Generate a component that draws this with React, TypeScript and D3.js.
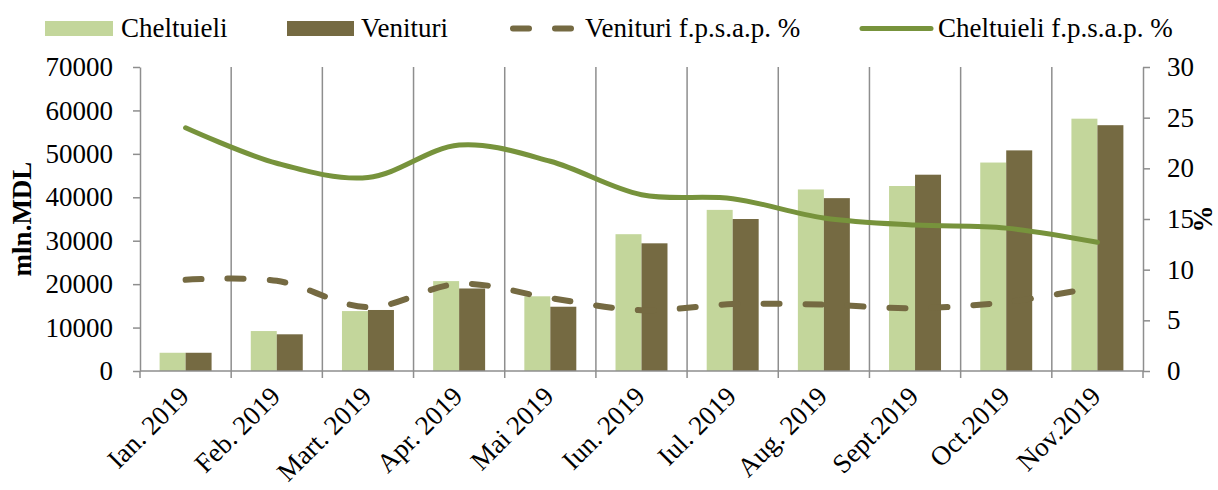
import React, { useEffect, useRef } from 'react';
import * as d3 from 'd3';

// categories and series
const months = ['Ian. 2019', 'Feb. 2019', 'Mart. 2019', 'Apr. 2019', 'Mai 2019', 'Iun. 2019',
  'Iul. 2019', 'Aug. 2019', 'Sept.2019', 'Oct.2019', 'Nov.2019'];
const cheltuieli = [4200, 9200, 13800, 20700, 17200, 31500, 37100, 41800, 42600, 48000, 58100];
const venituri = [4200, 8450, 14050, 19000, 14800, 29400, 35000, 39800, 45200, 50800, 56600];
const venituriPct = [9.0, 8.9, 6.3, 8.6, 7.2, 6.0, 6.6, 6.55, 6.2, 6.8, 8.3];
const cheltuieliPct = [24.0, 20.5, 19.1, 22.3, 20.7, 17.4, 17.0, 15.1, 14.4, 14.1, 12.7];
const leftTicks = [0, 10000, 20000, 30000, 40000, 50000, 60000, 70000];
const rightTicks = [0, 5, 10, 15, 20, 25, 30];

const LIGHT = '#C3D69B';
const DARK = '#756A42';
const GREEN = '#77933C';
const GRID = '#8E8E8E';
const FONT = '"Liberation Serif", "Times New Roman", serif';

const App = () => {
  const svgRef = useRef<SVGSVGElement>(null);

  useEffect(() => {
    const width = 1218;
    const height = 490;
    const left = 140, right = 1143, top = 67, bottom = 371;

    const svg = d3.select(svgRef.current)
      .attr('width', width)
      .attr('height', height);
    svg.selectAll('*').remove();

    const x = d3.scaleBand<string>()
      .domain(months)
      .range([left, right])
      .paddingInner(0.43)
      .paddingOuter(0.215);
    const sub = d3.scaleBand<string>()
      .domain(['c', 'v'])
      .range([0, x.bandwidth()]);
    const yL = d3.scaleLinear().domain([0, 70000]).range([bottom, top]);
    const yR = d3.scaleLinear().domain([0, 30]).range([bottom, top]);
    const step = x.step();
    const center = (m: string) => (x(m) as number) + x.bandwidth() / 2;

    // vertical gridlines between categories
    svg.append('g')
      .selectAll('line')
      .data(d3.range(1, months.length))
      .enter().append('line')
      .attr('x1', i => left + i * step)
      .attr('x2', i => left + i * step)
      .attr('y1', top)
      .attr('y2', bottom)
      .attr('stroke', GRID)
      .attr('stroke-width', 1.5);

    // bars
    const bars = svg.append('g');
    bars.selectAll('.c')
      .data(months)
      .enter().append('rect')
      .attr('x', d => (x(d) as number) + (sub('c') as number))
      .attr('width', sub.bandwidth())
      .attr('y', (d, i) => yL(cheltuieli[i]))
      .attr('height', (d, i) => bottom - yL(cheltuieli[i]))
      .attr('fill', LIGHT);
    bars.selectAll('.v')
      .data(months)
      .enter().append('rect')
      .attr('x', d => (x(d) as number) + (sub('v') as number))
      .attr('width', sub.bandwidth())
      .attr('y', (d, i) => yL(venituri[i]))
      .attr('height', (d, i) => bottom - yL(venituri[i]))
      .attr('fill', DARK);

    // left axis
    const gL = svg.append('g')
      .attr('transform', `translate(${left},0)`)
      .call(d3.axisLeft(yL).tickValues(leftTicks).tickSize(7).tickSizeOuter(0).tickPadding(20)
        .tickFormat(d3.format('d')));
    // right axis
    const gR = svg.append('g')
      .attr('transform', `translate(${right},0)`)
      .call(d3.axisRight(yR).tickValues(rightTicks).tickSize(7).tickSizeOuter(0).tickPadding(17));
    [gL, gR].forEach(g => {
      g.selectAll('path').attr('stroke', GRID).attr('stroke-width', 1.5);
      g.selectAll('line').attr('stroke', GRID).attr('stroke-width', 1.5);
      g.selectAll('text')
        .attr('font-family', FONT)
        .attr('font-size', 27)
        .attr('fill', '#000');
    });

    // x axis
    const gX = svg.append('g');
    gX.append('line')
      .attr('x1', left).attr('x2', right)
      .attr('y1', bottom).attr('y2', bottom)
      .attr('stroke', GRID).attr('stroke-width', 1.5);
    gX.selectAll('.tick')
      .data(d3.range(0, months.length + 1))
      .enter().append('line')
      .attr('x1', i => left + i * step)
      .attr('x2', i => left + i * step)
      .attr('y1', bottom)
      .attr('y2', bottom + 7)
      .attr('stroke', GRID).attr('stroke-width', 1.5);
    gX.selectAll('text')
      .data(months)
      .enter().append('text')
      .attr('transform', d => `translate(${center(d) + 5},${bottom + 27}) rotate(-45)`)
      .attr('text-anchor', 'end')
      .attr('font-family', FONT)
      .attr('font-size', 27)
      .text(d => d);

    // lines on secondary axis
    const line = d3.line<number>()
      .x((d, i) => center(months[i]))
      .y(d => yR(d))
      .curve(d3.curveCatmullRom.alpha(0.5));
    svg.append('path')
      .attr('d', line(venituriPct))
      .attr('fill', 'none')
      .attr('stroke', DARK)
      .attr('stroke-width', 6)
      .attr('stroke-linecap', 'round')
      .attr('stroke-dasharray', '16 26');
    svg.append('path')
      .attr('d', line(cheltuieliPct))
      .attr('fill', 'none')
      .attr('stroke', GREEN)
      .attr('stroke-width', 5)
      .attr('stroke-linecap', 'round');

    // axis titles
    svg.append('text')
      .attr('transform', `translate(31,${(top + bottom) / 2}) rotate(-90)`)
      .attr('text-anchor', 'middle')
      .attr('font-family', FONT)
      .attr('font-size', 27)
      .attr('font-weight', 'bold')
      .text('mln.MDL');
    svg.append('text')
      .attr('transform', `translate(1212,${yR(15)}) rotate(-90)`)
      .attr('text-anchor', 'middle')
      .attr('font-family', FONT)
      .attr('font-size', 27)
      .attr('font-weight', 'bold')
      .text('%');

    // legend
    const lg = svg.append('g');
    lg.append('rect').attr('x', 45).attr('y', 21).attr('width', 68).attr('height', 15).attr('fill', LIGHT);
    lg.append('rect').attr('x', 287).attr('y', 21).attr('width', 67).attr('height', 15).attr('fill', DARK);
    lg.append('line').attr('x1', 513).attr('x2', 573).attr('y1', 28.5).attr('y2', 28.5)
      .attr('stroke', DARK).attr('stroke-width', 6).attr('stroke-linecap', 'round')
      .attr('stroke-dasharray', '16 26');
    lg.append('line').attr('x1', 862).attr('x2', 931).attr('y1', 28.5).attr('y2', 28.5)
      .attr('stroke', GREEN).attr('stroke-width', 5).attr('stroke-linecap', 'round');
    const labels: [number, string][] = [
      [121, 'Cheltuieli'], [361, 'Venituri'], [585, 'Venituri f.p.s.a.p. %'], [938, 'Cheltuieli f.p.s.a.p. %'],
    ];
    lg.selectAll('text')
      .data(labels)
      .enter().append('text')
      .attr('x', d => d[0])
      .attr('y', 37)
      .attr('font-family', FONT)
      .attr('font-size', 27)
      .text(d => d[1]);
  }, []);

  return (
    <svg ref={svgRef} style={{ position: 'absolute', left: 0, top: 0 }}></svg>
  );
};

export default App;
